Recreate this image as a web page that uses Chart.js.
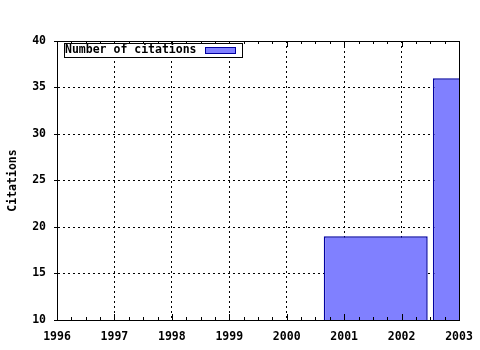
<!DOCTYPE html>
<html>
<head>
<meta charset="utf-8">
<script src="https://cdn.jsdelivr.net/npm/chart.js@4"></script>
<style>
  html, body { margin: 0; padding: 0; background: #fff; }
  #wrap { width: 480px; height: 350px; }
</style>
</head>
<body>
<div id="wrap"><canvas id="chart" width="480" height="350"></canvas></div>
<script>
// data
const years = [2001.55, 2003.45]
const citations = [19, 36]
const seriesLabel = 'Number of citations'
const yTitle = 'Citations'
const xRange = [1996, 2003]
const yRange = [10, 40]

const FONT = { family: "'DejaVu Sans Mono', 'Liberation Mono', monospace", size: 11.5, weight: 'bold' }
const FILL = '#8080ff'
const EDGE = '#0000a0'

// frame, inward minor ticks and the boxed legend
const framePlugin = {
    id: 'frame',
    afterDraw: function (chart) {
        const ctx = chart.ctx
        const a = chart.chartArea
        const x = chart.scales.x
        ctx.save()
        ctx.strokeStyle = '#000'
        ctx.lineWidth = 1
        ctx.setLineDash([])
        ctx.strokeRect(Math.round(a.left) + 0.5, Math.round(a.top) + 0.5, Math.round(a.right - a.left), Math.round(a.bottom - a.top))

        ctx.beginPath()
        for (let v = xRange[0]; v <= xRange[1] + 1e-9; v += 0.25) {
            const px = Math.round(x.getPixelForValue(v)) + 0.5
            const len = Math.abs(v - Math.round(v)) < 1e-9 ? 6 : 3
            ctx.moveTo(px, a.bottom)
            ctx.lineTo(px, a.bottom - len)
            ctx.moveTo(px, a.top)
            ctx.lineTo(px, a.top + len)
        }
        ctx.stroke()

        // legend box
        const ds = chart.data.datasets[0]
        const lx = Math.round(a.left) + 7
        const ly = Math.round(a.top) + 2
        ctx.fillStyle = '#fff'
        ctx.fillRect(lx, ly, 179, 15)
        ctx.font = FONT.weight + ' ' + FONT.size + 'px ' + FONT.family
        ctx.textBaseline = 'middle'
        ctx.textAlign = 'left'
        ctx.fillStyle = '#000'
        ctx.fillText(ds.label, lx + 1, ly + 7.5)
        ctx.strokeRect(lx + 0.5, ly + 0.5, 178, 14)
        ctx.fillStyle = ds.backgroundColor
        ctx.fillRect(lx + 141, ly + 4, 31, 6)
        ctx.strokeStyle = ds.borderColor
        ctx.lineWidth = 1
        ctx.strokeRect(lx + 141.5, ly + 4.5, 30, 6)
        ctx.restore()
    }
}

new Chart(document.getElementById('chart'), {
    type: 'bar',
    data: {
        datasets: [{
            label: seriesLabel,
            data: years.map(function (y, i) { return { x: y, y: citations[i] } }),
            backgroundColor: FILL,
            borderColor: EDGE,
            borderWidth: 1.5,
            borderSkipped: false,
            inflateAmount: 0,
            barPercentage: 1.81,
            categoryPercentage: 1
        }]
    },
    options: {
        responsive: false,
        animation: false,
        devicePixelRatio: 1,
        layout: { padding: { top: 41, right: 21, left: 0, bottom: 0 } },
        plugins: {
            legend: { display: false },
            tooltip: { enabled: false }
        },
        scales: {
            x: {
                type: 'linear',
                offset: false,
                min: xRange[0],
                max: xRange[1],
                afterFit: function (s) {
                    s.height = 30
                    s.paddingLeft = 0
                    s.paddingRight = 0
                },
                grid: {
                    offset: false,
                    color: '#000',
                    lineWidth: 1,
                    drawTicks: false
                },
                border: { display: true, color: '#000', dash: [2, 3] },
                ticks: {
                    stepSize: 1,
                    padding: 10,
                    color: '#000',
                    font: FONT,
                    maxRotation: 0,
                    callback: function (v) { return String(v) }
                }
            },
            y: {
                min: yRange[0],
                max: yRange[1],
                afterFit: function (s) { s.width = 57 },
                grid: {
                    color: '#000',
                    lineWidth: 1,
                    drawTicks: true,
                    tickLength: 3,
                    tickColor: '#000'
                },
                border: { display: true, color: '#000', dash: [2, 3] },
                ticks: {
                    stepSize: 5,
                    padding: 8,
                    color: '#000',
                    font: FONT
                },
                title: {
                    display: true,
                    text: yTitle,
                    color: '#000',
                    font: FONT,
                    padding: { top: 6, bottom: 0 }
                }
            }
        }
    },
    plugins: [framePlugin]
})
</script>
</body>
</html>
